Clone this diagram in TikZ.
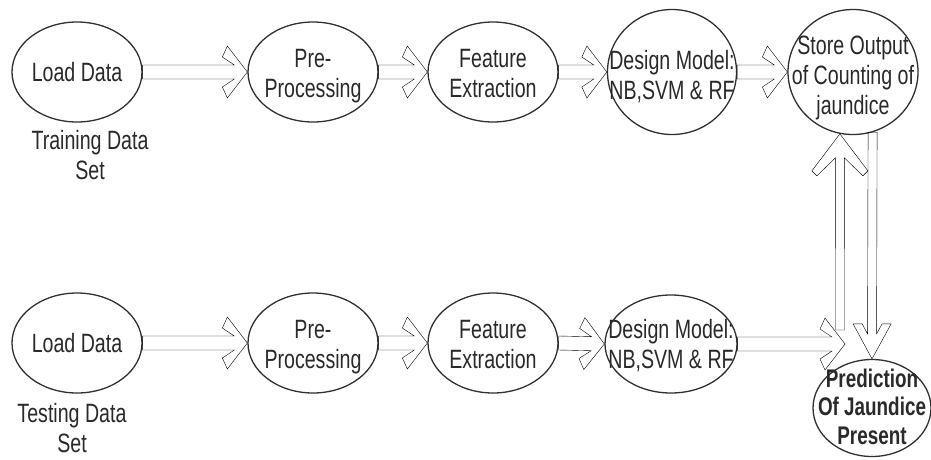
\documentclass[tikz,border=0pt]{standalone}
\usepackage{fontspec}
\setmainfont{Liberation Sans}[FakeStretch=0.74]
\usetikzlibrary{calc,shapes.geometric}
\definecolor{linec}{HTML}{303030}
\definecolor{textc}{HTML}{2A2A2A}
\newcommand{\inell}[2][0pt]{\makebox[0pt]{\smash{\raisebox{\dimexpr-0.608em+6pt-#1\relax}{\begin{tabular}{@{}c@{}}#2\end{tabular}}}}}
\tikzset{
  ell/.style={ellipse, draw=linec, line width=1.3pt, inner sep=0pt, text=textc,
    font=\fontsize{26.5}{30}\selectfont},
  lbl/.style={align=center, text=textc, inner sep=0pt, font=\fontsize{26.5}{30}\selectfont},
  fat/.style n args={6}{draw=linec, line width=1.5pt, fill=white, line join=miter, to path={
    let \p1=(\tikztostart), \p2=(\tikztotarget), \n1={atan2(\y2-\y1,\x2-\x1)} in
    ($(\p1)+({\n1+90}:#1pt)$)
    -- ($(\p2)+({\n1+180}:#2pt)+({\n1+90}:#1pt)$)
    -- ($(\p2)+({\n1+180}:#3pt)+({\n1+90}:#4pt)$)
    -- ($(\p2)+({\n1+180}:#5pt)+({\n1+90}:#6pt)$)
    -- (\p2)
    -- ($(\p2)+({\n1+180}:#5pt)+({\n1-90}:#6pt)$)
    -- ($(\p2)+({\n1+180}:#3pt)+({\n1-90}:#4pt)$)
    -- ($(\p2)+({\n1+180}:#2pt)+({\n1-90}:#1pt)$)
    -- ($(\p1)+({\n1-90}:#1pt)$)
    -- cycle}},
  fath/.style={fat={7}{13}{25}{15}{20}{26}},
  fatup/.style={fat={4.5}{24}{42}{23}{37}{28}},
  fatdown/.style={fat={4.5}{25}{35}{10}{35}{19}}
}
\begin{document}
\begin{tikzpicture}[x=1pt,y=-1pt]
\useasboundingbox (0,0) rectangle (931,459);
\fill[white] (0,0) rectangle (931,459);
% top row
\node[ell, minimum width=130pt, minimum height=100pt] (load1) at (77,72) {\inell{Load Data}};
\node[ell, minimum width=130pt, minimum height=100pt] (pre1) at (313,72) {\inell[1pt]{Pre-\\Processing}};
\node[ell, minimum width=130pt, minimum height=100pt] (fe1) at (493,72) {\inell[1pt]{Feature\\Extraction}};
\node[ell, minimum width=129pt, minimum height=125pt] (dm1) at (672,72) {\inell[3pt]{Design Model:\\NB,SVM \& RF}};
\node[ell, minimum width=130pt, minimum height=125pt] (so) at (853,72) {\inell[3pt]{Store Output\\of Counting of\\jaundice}};
\node[lbl] (trainlbl) at (90,155) {Training Data\\Set};
% bottom row
\node[ell, minimum width=130pt, minimum height=100pt] (load2) at (77,343) {\inell{Load Data}};
\node[ell, minimum width=130pt, minimum height=100pt] (pre2) at (313,343) {\inell[1pt]{Pre-\\Processing}};
\node[ell, minimum width=130pt, minimum height=100pt] (fe2) at (493,343) {\inell[1pt]{Feature\\Extraction}};
\node[ell, minimum width=132pt, minimum height=98pt] (dm2) at (671,344) {\inell{Design Model:\\NB,SVM \& RF}};
\node[ell, minimum width=118pt, minimum height=97pt, font=\fontsize{25.5}{28.5}\selectfont\bfseries] (pred) at (872,408) {\inell[-1pt]{Prediction\\Of Jaundice\\Present}};
\node[lbl] (testlbl) at (72,428) {Testing Data\\Set};
\coordinate (ub) at (840,330);
\coordinate (dtip) at (845,344);
% connectors
\draw (load1.east) to[fath] (pre1.west);
\draw (pre1.east) to[fath] (fe1.west);
\draw (fe1.east) to[fath] (dm1.west);
\draw (dm1.east) to[fath] (so.west);
\draw (load2.east) to[fath] (pre2.west);
\draw (pre2.east) to[fath] (fe2.west);
\draw (fe2.east) to[fath] (dm2.west);
\draw (ub) to[fatup] (so.-102);
\draw (so.-72) to[fatdown] (pred.north);
\draw (dm2.east) to[fath] (dtip);
\end{tikzpicture}
\end{document}
